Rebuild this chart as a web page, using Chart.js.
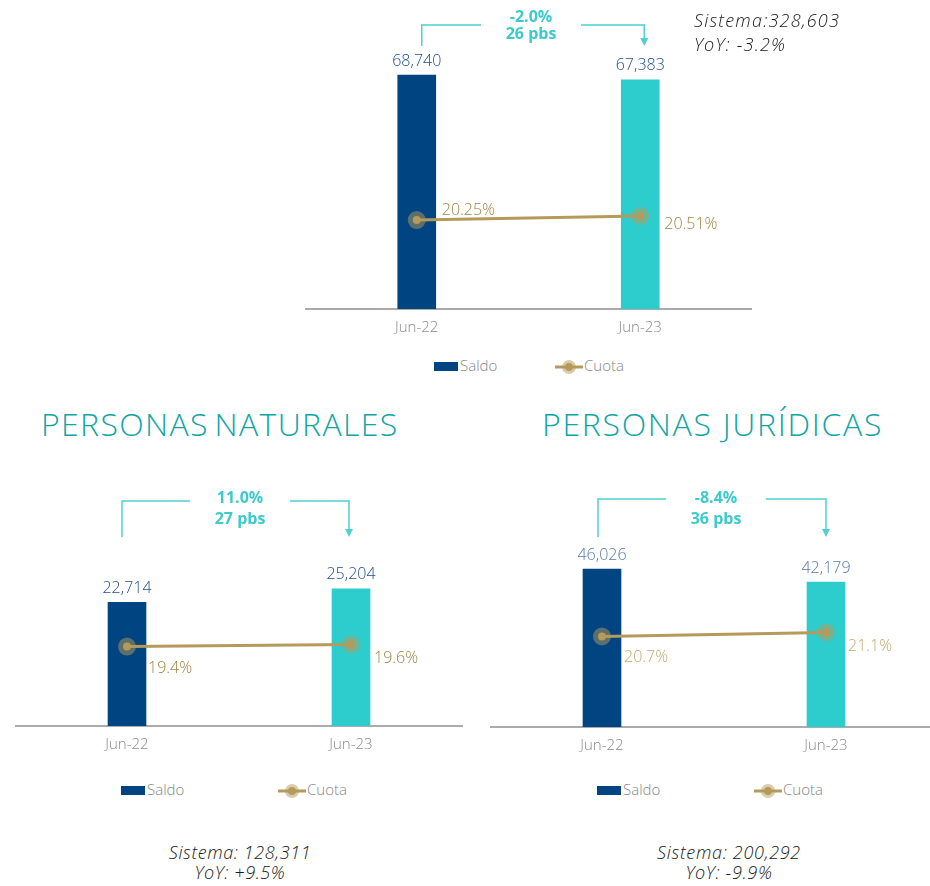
<!DOCTYPE html>
<html>
<head>
<meta charset="utf-8">
<script src="https://cdn.jsdelivr.net/npm/chart.js@4.4.0/dist/chart.umd.min.js"></script>
<style>
body { margin: 0; width: 930px; height: 886px; position: relative; overflow: hidden; background: #fff; font-family: "Open Sans", sans-serif; }
canvas, .abs { position: absolute; }
.titulo { font-weight: 300; font-size: 32px; color: #0fa5a6; white-space: nowrap; line-height: 40px; }
.sistema { font-style: italic; font-weight: 300; font-size: 18px; color: #1a1a1a; line-height: 23px; white-space: nowrap; }
.variacion { font-weight: 700; font-size: 16px; color: #3ccacc; text-align: center; width: 100px; background: #fff; }
.leyenda { font-weight: 300; font-size: 15px; color: #858585; line-height: 20px; white-space: nowrap; }
</style>
</head>
<body>

<canvas id="total" width="447" height="347" style="left:305px; top:0px;"></canvas>
<canvas id="naturales" width="448" height="284" style="left:15px; top:480px;"></canvas>
<canvas id="juridicas" width="448" height="285" style="left:490px; top:480px;"></canvas>

<div class="abs sistema" style="left:694px; top:8px; line-height:24px; letter-spacing:1.2px;">Sistema:328,603<br>YoY: -3.2%</div>

<div class="abs titulo" style="left:41px; top:404px; letter-spacing:1.35px; word-spacing:-4px;">PERSONAS NATURALES</div>
<div class="abs titulo" style="left:542px; top:404px; letter-spacing:1.7px;">PERSONAS JURÍDICAS</div>

<div class="abs variacion" style="left:481px; top:8px; line-height:17px;">-2.0%<br>26 pbs</div>
<div class="abs variacion" style="left:190px; top:487px; line-height:21px;">11.0%<br>27 pbs</div>
<div class="abs variacion" style="left:666px; top:487px; line-height:21px;">-8.4%<br>36 pbs</div>

<div class="abs sistema" style="left:140px; top:842px; width:200px; text-align:center; line-height:20px; letter-spacing:0.6px;">Sistema: 128,311<br>YoY: +9.5%</div>
<div class="abs sistema" style="left:629px; top:842px; width:200px; text-align:center; line-height:20px; letter-spacing:0.7px;">Sistema: 200,292<br>YoY: -9.9%</div>

<script>
const periodos = ["Jun-22", "Jun-23"];

const saldoTotal = [68740, 67383];
const cuotaTotal = [20.25, 20.51];

const saldoNaturales = [22714, 25204];
const cuotaNaturales = [19.4, 19.6];

const saldoJuridicas = [46026, 42179];
const cuotaJuridicas = [20.7, 21.1];

const colorBarras = ["#004481", "#2dcccd"];
const dorado = "#b59a5a";
const halo = "rgba(181, 154, 90, 0.5)";
const turquesa = "#4fd0d2";

// etiquetas de saldo y cuota + la llave con flecha de arriba
const etiquetas = {
	id: "etiquetas",
	afterDatasetsDraw(chart, args, opts) {
		const ctx = chart.ctx;
		const saldo = chart.data.datasets[0].data;
		const cuota = chart.data.datasets[2].data;
		const barras = chart.getDatasetMeta(0).data;
		const puntos = chart.getDatasetMeta(2).data;
		ctx.save();

		ctx.font = "300 16px 'Open Sans'";
		ctx.fillStyle = opts.colorSaldo;
		ctx.textAlign = "center";
		ctx.textBaseline = "middle";
		barras.forEach((b, i) => {
			ctx.fillText(saldo[i].toLocaleString("en-US"), b.x, b.y - 14);
		});

		ctx.font = "300 16px 'Open Sans'";
		ctx.fillStyle = opts.colorCuota;
		ctx.textAlign = "left";
		puntos.forEach((p, i) => {
			const off = opts.desplaz[i];
			ctx.fillText(cuota[i].toFixed(opts.decimales) + "%", p.x + off[0], p.y + off[1]);
		});

		// llave
		const x1 = barras[0].x + opts.llaveDx[0];
		const x2 = barras[1].x + opts.llaveDx[1];
		const medio = (x1 + x2) / 2;
		const y = opts.llaveY;
		ctx.strokeStyle = turquesa;
		ctx.fillStyle = turquesa;
		ctx.lineWidth = 1.5;
		ctx.beginPath();
		ctx.moveTo(x1, opts.llaveFin);
		ctx.lineTo(x1, y);
		ctx.lineTo(medio - 34, y);
		ctx.moveTo(medio + 34, y);
		ctx.lineTo(x2, y);
		ctx.lineTo(x2, opts.llaveFin - 7);
		ctx.stroke();
		ctx.beginPath();
		ctx.moveTo(x2 - 4, opts.llaveFin - 8);
		ctx.lineTo(x2 + 4, opts.llaveFin - 8);
		ctx.lineTo(x2, opts.llaveFin);
		ctx.closePath();
		ctx.fill();

		ctx.restore();
	}
};

function crearGrafico(id, saldo, cuota, cfg) {
	return new Chart(document.getElementById(id), {
		type: "bar",
		data: {
			labels: periodos,
			datasets: [
				{
					type: "bar",
					label: "Saldo",
					data: saldo,
					backgroundColor: colorBarras,
					barThickness: 38,
					yAxisID: "y",
					order: 3
				},
				{
					type: "line",
					label: "halo",
					data: cuota,
					showLine: false,
					pointRadius: 9,
					pointBackgroundColor: halo,
					pointBorderWidth: 0,
					yAxisID: "y2",
					order: 2
				},
				{
					type: "line",
					label: "Cuota",
					data: cuota,
					borderColor: dorado,
					borderWidth: 3,
					pointRadius: 4,
					pointBackgroundColor: dorado,
					pointBorderWidth: 0,
					yAxisID: "y2",
					order: 1
				}
			]
		},
		options: {
			responsive: false,
			animation: false,
			devicePixelRatio: 1,
			layout: { autoPadding: false, padding: { top: cfg.arriba, left: 0, right: 0, bottom: 0 } },
			plugins: {
				legend: { display: false },
				tooltip: { enabled: false },
				etiquetas: cfg.etiquetas
			},
			scales: {
				x: {
					offset: true,
					grid: { display: false, drawTicks: false },
					border: { display: true, color: "#ababab", width: 2 },
					ticks: {
						padding: 10,
						color: "#8c8c8c",
						font: { family: "Open Sans", size: 15, weight: "300" }
					}
				},
				y: { display: false, min: 0, max: cfg.maxSaldo },
				y2: { display: false, min: cfg.cuotaRango[0], max: cfg.cuotaRango[1] }
			}
		},
		plugins: [etiquetas]
	});
}

crearGrafico("total", saldoTotal, cuotaTotal, {
	arriba: 30,
	maxSaldo: 82000,
	cuotaRango: [14.5, 32.55],
	etiquetas: {
		colorSaldo: "#1f4e8c",
		colorCuota: "#9f8344",
		decimales: 2,
		desplaz: [[25, -10], [24, 8]],
		llaveDx: [5, 4],
		llaveY: 25,
		llaveFin: 46
	}
});

crearGrafico("naturales", saldoNaturales, cuotaNaturales, {
	arriba: 75,
	maxSaldo: 31400,
	cuotaRango: [11.5, 28.5],
	etiquetas: {
		colorSaldo: "#1f4e8c",
		colorCuota: "#9f8344",
		decimales: 1,
		desplaz: [[21, 22], [23, 14]],
		llaveDx: [-5, -2],
		llaveY: 21,
		llaveFin: 57
	}
});

crearGrafico("juridicas", saldoJuridicas, cuotaJuridicas, {
	arriba: 75,
	maxSaldo: 50100,
	cuotaRango: [11.7, 28.8],
	etiquetas: {
		colorSaldo: "#5679aa",
		colorCuota: "#c2a86c",
		decimales: 1,
		desplaz: [[22, 21], [22, 14]],
		llaveDx: [-4, 0],
		llaveY: 19,
		llaveFin: 57
	}
});

// leyendas en html
function leyenda(xSaldo, xCuota, y) {
	const caja = document.createElement("div");
	caja.className = "abs";
	caja.style = `left:${xSaldo}px; top:${y - 4.5}px; width:24px; height:9px; background:${colorBarras[0]};`;
	document.body.appendChild(caja);

	const t1 = document.createElement("div");
	t1.className = "abs leyenda";
	t1.style = `left:${xSaldo + 26}px; top:${y - 11}px;`;
	t1.innerText = "Saldo";
	document.body.appendChild(t1);

	const icono = document.createElement("div");
	icono.className = "abs";
	icono.style = `left:${xCuota}px; top:${y - 8}px; width:28px; height:16px;`;
	icono.innerHTML = `<svg width="28" height="16">
		<line x1="0" y1="8" x2="28" y2="8" stroke="${dorado}" stroke-width="3"/>
		<circle cx="14" cy="8" r="7" fill="${halo}"/>
		<circle cx="14" cy="8" r="4" fill="${dorado}"/>
	</svg>`;
	document.body.appendChild(icono);

	const t2 = document.createElement("div");
	t2.className = "abs leyenda";
	t2.style = `left:${xCuota + 29}px; top:${y - 11}px;`;
	t2.innerText = "Cuota";
	document.body.appendChild(t2);
}

leyenda(434, 555, 366);
leyenda(121, 278, 790);
leyenda(597, 754, 790);
</script>
</body>
</html>
